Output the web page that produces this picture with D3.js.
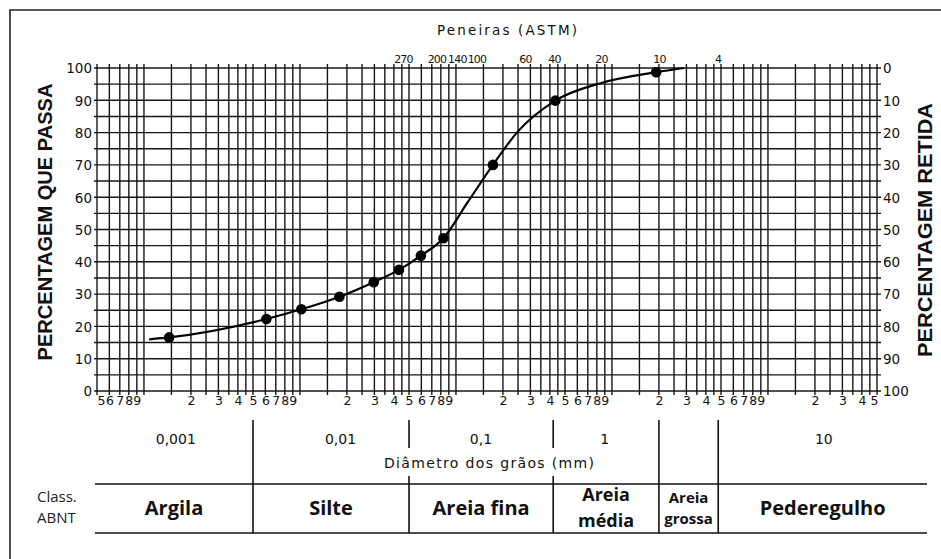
<!DOCTYPE html>
<html>
<head>
<meta charset="utf-8">
<script src="https://cdn.jsdelivr.net/npm/d3@7"></script>
<style>
  html, body { margin: 0; padding: 0; background: #fff; }
  svg { display: block; }
</style>
</head>
<body>
<div id="chart"></div>
<script>
// ---------- DATA ----------
// sample points: grain diameter (mm) and percentage passing
const pointDiam = [0.00145, 0.00609, 0.0102, 0.0179, 0.0297, 0.0431, 0.0596, 0.0831, 0.1726, 0.434, 1.92];
const pointPass = [16.6, 22.3, 25.3, 29.2, 33.7, 37.5, 41.9, 47.3, 70.0, 89.9, 98.7];

// traced smooth curve through the points
const curveDiam = [0.00108, 0.00145, 0.00609, 0.0102, 0.0179, 0.0297, 0.0431, 0.0596, 0.0831, 0.1195, 0.1726, 0.249, 0.434, 0.845, 1.92, 2.9];
const curvePass = [16.0, 16.6, 22.3, 25.3, 29.2, 33.7, 37.5, 41.9, 47.3, 58.6, 70.0, 80.3, 89.9, 95.3, 98.7, 100];

// ASTM sieves: number and opening (mm)
const sieveNumbers = ["270", "200", "140", "100", "60", "40", "20", "10", "4"];
const sieveOpenings = [0.053, 0.075, 0.106, 0.15, 0.25, 0.425, 0.85, 2.0, 4.75];

// percent ticks
const passTicks = [0, 10, 20, 30, 40, 50, 60, 70, 80, 90, 100];

// decade labels under the axis (label, anchor diameter)
const decadeLabels = ["0,001", "0,01", "0,1", "1", "10"];
const decadeAnchors = [0.0016, 0.0182, 0.1446, 0.897, 22.8];

// ABNT classification
const classNames = [["Argila"], ["Silte"], ["Areia fina"], ["Areia", "média"], ["Areia", "grossa"], ["Pederegulho"]];
const classBounds = [0.0005, 0.005, 0.05, 0.42, 2.0, 4.8, 50];

// grid mantissas within a decade
const gridMantissas = [1, 1.5, 2, 2.5, 3, 3.5, 4, 4.5, 5, 6, 7, 8, 9];
const labelMantissas = [2, 3, 4, 5, 6, 7, 8, 9];

// ---------- LAYOUT ----------
const W = 941, H = 559;
const xS = d3.scaleLog().domain([0.0005, 50]).range([97, 877]);
const yS = d3.scaleLinear().domain([0, 100]).range([391, 68]);
const yRet = d3.scaleLinear().domain([0, 100]).range([68, 391]);

const svg = d3.select("#chart").append("svg").attr("width", W).attr("height", H);
svg.append("rect").attr("width", W).attr("height", H).attr("fill", "#fff");

// outer frame (top and left visible)
svg.append("path").attr("d", `M10,${H + 2}V10H${W + 2}`).attr("fill", "none")
  .attr("stroke", "#222").attr("stroke-width", 1.6);

const ink = "#161616";
const [px0, px1] = xS.range();
const [pyb, pyt] = yS.range();

// grid values
const gridX = [];
for (let e = -4; e <= 1; e++) {
  gridMantissas.forEach(m => {
    const v = m * Math.pow(10, e);
    if (v >= 0.0005 * 0.999 && v <= 50 * 1.001) gridX.push(v);
  });
}
const gridY = d3.range(0, 101, 5);

const grid = svg.append("g").attr("stroke", ink).attr("stroke-width", 1.4);
grid.selectAll("line.v").data(gridX).join("line").attr("class", "v")
  .attr("x1", d => xS(d)).attr("x2", d => xS(d))
  .attr("y1", pyt - 4).attr("y2", pyb + 4);
grid.selectAll("line.h").data(gridY).join("line").attr("class", "h")
  .attr("x1", px0 - 3).attr("x2", px1 + 4)
  .attr("y1", d => yS(d)).attr("y2", d => yS(d));

// ---------- AXES ----------
const numFont = "'DejaVu Sans', Verdana, sans-serif";

const axLeft = svg.append("g").attr("transform", `translate(${px0 - 5},0)`)
  .call(d3.axisLeft(yS).tickValues(passTicks).tickSize(0).tickPadding(0));
axLeft.select(".domain").remove();
axLeft.selectAll("text").attr("font-family", numFont).attr("font-size", 13.5).attr("fill", "#111")
  .attr("dy", "0.36em");

const axRight = svg.append("g").attr("transform", `translate(${px1 + 6},0)`)
  .call(d3.axisRight(yRet).tickValues(passTicks).tickSize(0).tickPadding(0));
axRight.select(".domain").remove();
axRight.selectAll("text").attr("font-family", numFont).attr("font-size", 13.5).attr("fill", "#111")
  .attr("dy", "0.36em");

// bottom minor digit labels
const bottomVals = [];
for (let e = -4; e <= 1; e++) {
  labelMantissas.forEach(m => {
    const v = m * Math.pow(10, e);
    if (v >= 0.0005 * 0.999 && v <= 50 * 1.001) bottomVals.push(v);
  });
}
const axBottom = svg.append("g").attr("transform", `translate(0,${pyb + 3})`)
  .call(d3.axisBottom(xS).tickValues(bottomVals).tickSize(0).tickPadding(0)
    .tickFormat(d => String(Math.round(d / Math.pow(10, Math.floor(Math.log10(d) + 1e-9))))));
axBottom.select(".domain").remove();
axBottom.selectAll("text").attr("font-family", numFont).attr("font-size", 12.5).attr("fill", "#111")
  .attr("dy", "0.85em")
  .attr("dx", (d, i) => i === 0 ? 4 : (i === bottomVals.length - 1 ? -3 : 0));

// top sieve axis
const sieveNudge = [-10, 0, -3, -7, 7, 0, 0, 0, 0];
const axTop = svg.append("g").attr("transform", `translate(0,${pyt - 5})`)
  .call(d3.axisTop(xS).tickValues(sieveOpenings).tickSize(0).tickPadding(0)
    .tickFormat((d, i) => sieveNumbers[i]));
axTop.select(".domain").remove();
axTop.selectAll("text").attr("font-family", numFont).attr("font-size", 11).attr("fill", "#111")
  .attr("letter-spacing", -0.8)
  .attr("dx", (d, i) => sieveNudge[i]);

svg.append("text").attr("x", 507).attr("y", 35).attr("text-anchor", "middle")
  .attr("font-family", numFont).attr("font-size", 13.5).attr("fill", "#111")
  .attr("textLength", 140).attr("lengthAdjust", "spacing")
  .text("Peneiras (ASTM)");

// axis titles
svg.append("text").attr("transform", "translate(52,222) rotate(-90)").attr("text-anchor", "middle")
  .attr("font-family", "'Liberation Sans', Arial, sans-serif").attr("font-weight", "bold")
  .attr("font-size", 20).attr("fill", "#111")
  .attr("textLength", 277).attr("lengthAdjust", "spacingAndGlyphs")
  .text("PERCENTAGEM QUE PASSA");
svg.append("text").attr("transform", "translate(932,230) rotate(-90)").attr("text-anchor", "middle")
  .attr("font-family", "'Liberation Sans', Arial, sans-serif").attr("font-weight", "bold")
  .attr("font-size", 20).attr("fill", "#111")
  .attr("textLength", 254).attr("lengthAdjust", "spacingAndGlyphs")
  .text("PERCENTAGEM RETIDA");

// ---------- CURVE & POINTS ----------
const curvePts = curveDiam.map((d, i) => [d, curvePass[i]]);
svg.append("path").datum(curvePts)
  .attr("fill", "none").attr("stroke", "#000").attr("stroke-width", 2.2)
  .attr("d", d3.line().x(d => xS(d[0])).y(d => yS(d[1])).curve(d3.curveMonotoneX));

svg.append("g").selectAll("circle").data(pointDiam.map((d, i) => [d, pointPass[i]])).join("circle")
  .attr("cx", d => xS(d[0])).attr("cy", d => yS(d[1])).attr("r", 5.3).attr("fill", "#000");

// ---------- LOWER TABLE ----------
svg.append("g").selectAll("text").data(decadeLabels).join("text")
  .attr("x", (d, i) => xS(decadeAnchors[i])).attr("y", 444).attr("text-anchor", "middle")
  .attr("font-family", numFont).attr("font-size", 14).attr("fill", "#111")
  .text(d => d);

svg.append("text").attr("x", 489).attr("y", 468).attr("text-anchor", "middle")
  .attr("font-family", numFont).attr("font-size", 14).attr("fill", "#111")
  .attr("textLength", 210).attr("lengthAdjust", "spacing")
  .text("Diâmetro dos grãos (mm)");

const tbl = svg.append("g").attr("stroke", "#111").attr("stroke-width", 1.6);
[484, 533].forEach(yy => tbl.append("line").attr("x1", 95).attr("x2", 927).attr("y1", yy).attr("y2", yy));
const inner = classBounds.slice(1, -1);
inner.forEach((b, i) => {
  const xx = xS(b);
  if (i === 1 || i === 2) {
    tbl.append("line").attr("x1", xx).attr("x2", xx).attr("y1", 420).attr("y2", 448);
    tbl.append("line").attr("x1", xx).attr("x2", xx).attr("y1", 476).attr("y2", 533);
  } else {
    tbl.append("line").attr("x1", xx).attr("x2", xx).attr("y1", 420).attr("y2", 533);
  }
});

const clsFont = "'Open Sans', 'Noto Sans', sans-serif";
svg.append("text").attr("x", 37).attr("y", 502).attr("font-family", clsFont).attr("font-size", 15)
  .attr("fill", "#222").text("Class.");
svg.append("text").attr("x", 37).attr("y", 523).attr("font-family", clsFont).attr("font-size", 15)
  .attr("fill", "#222").text("ABNT");

classNames.forEach((lines, i) => {
  const lo = i === 0 ? 95 : xS(classBounds[i]);
  const hi = i === classNames.length - 1 ? 927 : xS(classBounds[i + 1]);
  const cx = (lo + hi) / 2;
  const small = lines.length === 2 && i === 4;
  if (lines.length === 1) {
    svg.append("text").attr("x", cx).attr("y", 515).attr("text-anchor", "middle")
      .attr("font-family", clsFont).attr("font-weight", 700).attr("font-size", 20).attr("fill", "#111")
      .text(lines[0]);
  } else {
    const fs = small ? 15 : 18;
    const ys = small ? [503, 524] : [501, 527];
    lines.forEach((ln, j) => svg.append("text").attr("x", cx).attr("y", ys[j]).attr("text-anchor", "middle")
      .attr("font-family", clsFont).attr("font-weight", 700).attr("font-size", fs).attr("fill", "#111")
      .text(ln));
  }
});
</script>
</body>
</html>
